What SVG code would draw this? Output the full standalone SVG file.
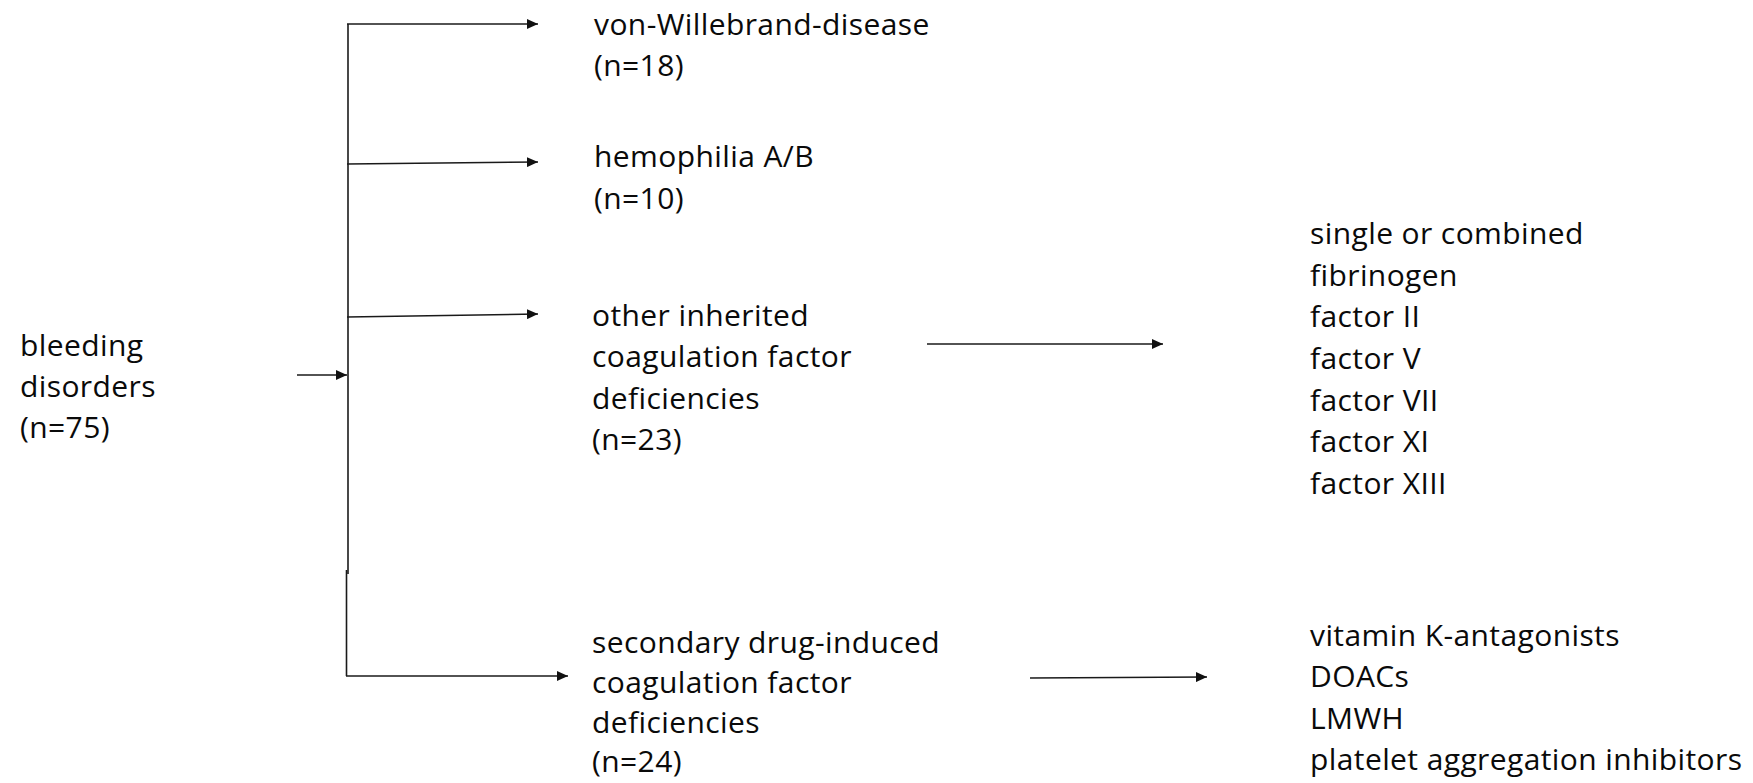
<svg xmlns="http://www.w3.org/2000/svg" width="1753" height="783" viewBox="0 0 1753 783">
<style>
  text { font-family: "Open Sans", "Noto Sans", "Liberation Sans", sans-serif; font-size: 30px; letter-spacing: 0.4px; fill: #0a0a0a; }
  .ln { stroke: #1a1a1a; stroke-width: 1.6; fill: none; }
</style>
<defs>
  <marker id="ah" markerUnits="userSpaceOnUse" markerWidth="12" markerHeight="10" refX="11" refY="5" orient="auto">
    <path d="M0,0 L11,5 L0,10 z" fill="#111"/>
  </marker>
</defs>
<rect width="1753" height="783" fill="#fff"/>
<g id="connectors">
  <path class="ln" d="M348,24 V574"/>
  <path class="ln" d="M346.5,570 V676"/>
  <line class="ln" x1="347" y1="24" x2="538" y2="24" marker-end="url(#ah)"/>
  <line class="ln" x1="347" y1="164" x2="538" y2="162" marker-end="url(#ah)"/>
  <line class="ln" x1="347" y1="317" x2="538" y2="314" marker-end="url(#ah)"/>
  <line class="ln" x1="297" y1="375" x2="347" y2="375" marker-end="url(#ah)"/>
  <line class="ln" x1="346" y1="676" x2="568" y2="676" marker-end="url(#ah)"/>
  <line class="ln" x1="927" y1="344" x2="1163" y2="344" marker-end="url(#ah)"/>
  <line class="ln" x1="1030" y1="678" x2="1207" y2="677" marker-end="url(#ah)"/>
</g>
<g id="bleeding-disorders">
  <text x="20" y="356">bleeding</text>
  <text x="20" y="397">disorders</text>
  <text x="20" y="438">(n=75)</text>
</g>
<g id="vwd">
  <text x="594" y="35">von-Willebrand-disease</text>
  <text x="594" y="76">(n=18)</text>
</g>
<g id="hemophilia">
  <text x="594" y="167">hemophilia A/B</text>
  <text x="594" y="209">(n=10)</text>
</g>
<g id="other-inherited">
  <text x="592" y="326">other inherited</text>
  <text x="592" y="367">coagulation factor</text>
  <text x="592" y="409">deficiencies</text>
  <text x="592" y="450">(n=23)</text>
</g>
<g id="secondary">
  <text x="592" y="653">secondary drug-induced</text>
  <text x="592" y="693">coagulation factor</text>
  <text x="592" y="733">deficiencies</text>
  <text x="592" y="772">(n=24)</text>
</g>
<g id="inherited-list">
  <text x="1310" y="244">single or combined</text>
  <text x="1310" y="286">fibrinogen</text>
  <text x="1310" y="327">factor II</text>
  <text x="1310" y="369">factor V</text>
  <text x="1310" y="411">factor VII</text>
  <text x="1310" y="452">factor XI</text>
  <text x="1310" y="494">factor XIII</text>
</g>
<g id="drug-list">
  <text x="1310" y="646">vitamin K-antagonists</text>
  <text x="1310" y="687">DOACs</text>
  <text x="1310" y="729">LMWH</text>
  <text x="1310" y="770">platelet aggregation inhibitors</text>
</g>
</svg>
